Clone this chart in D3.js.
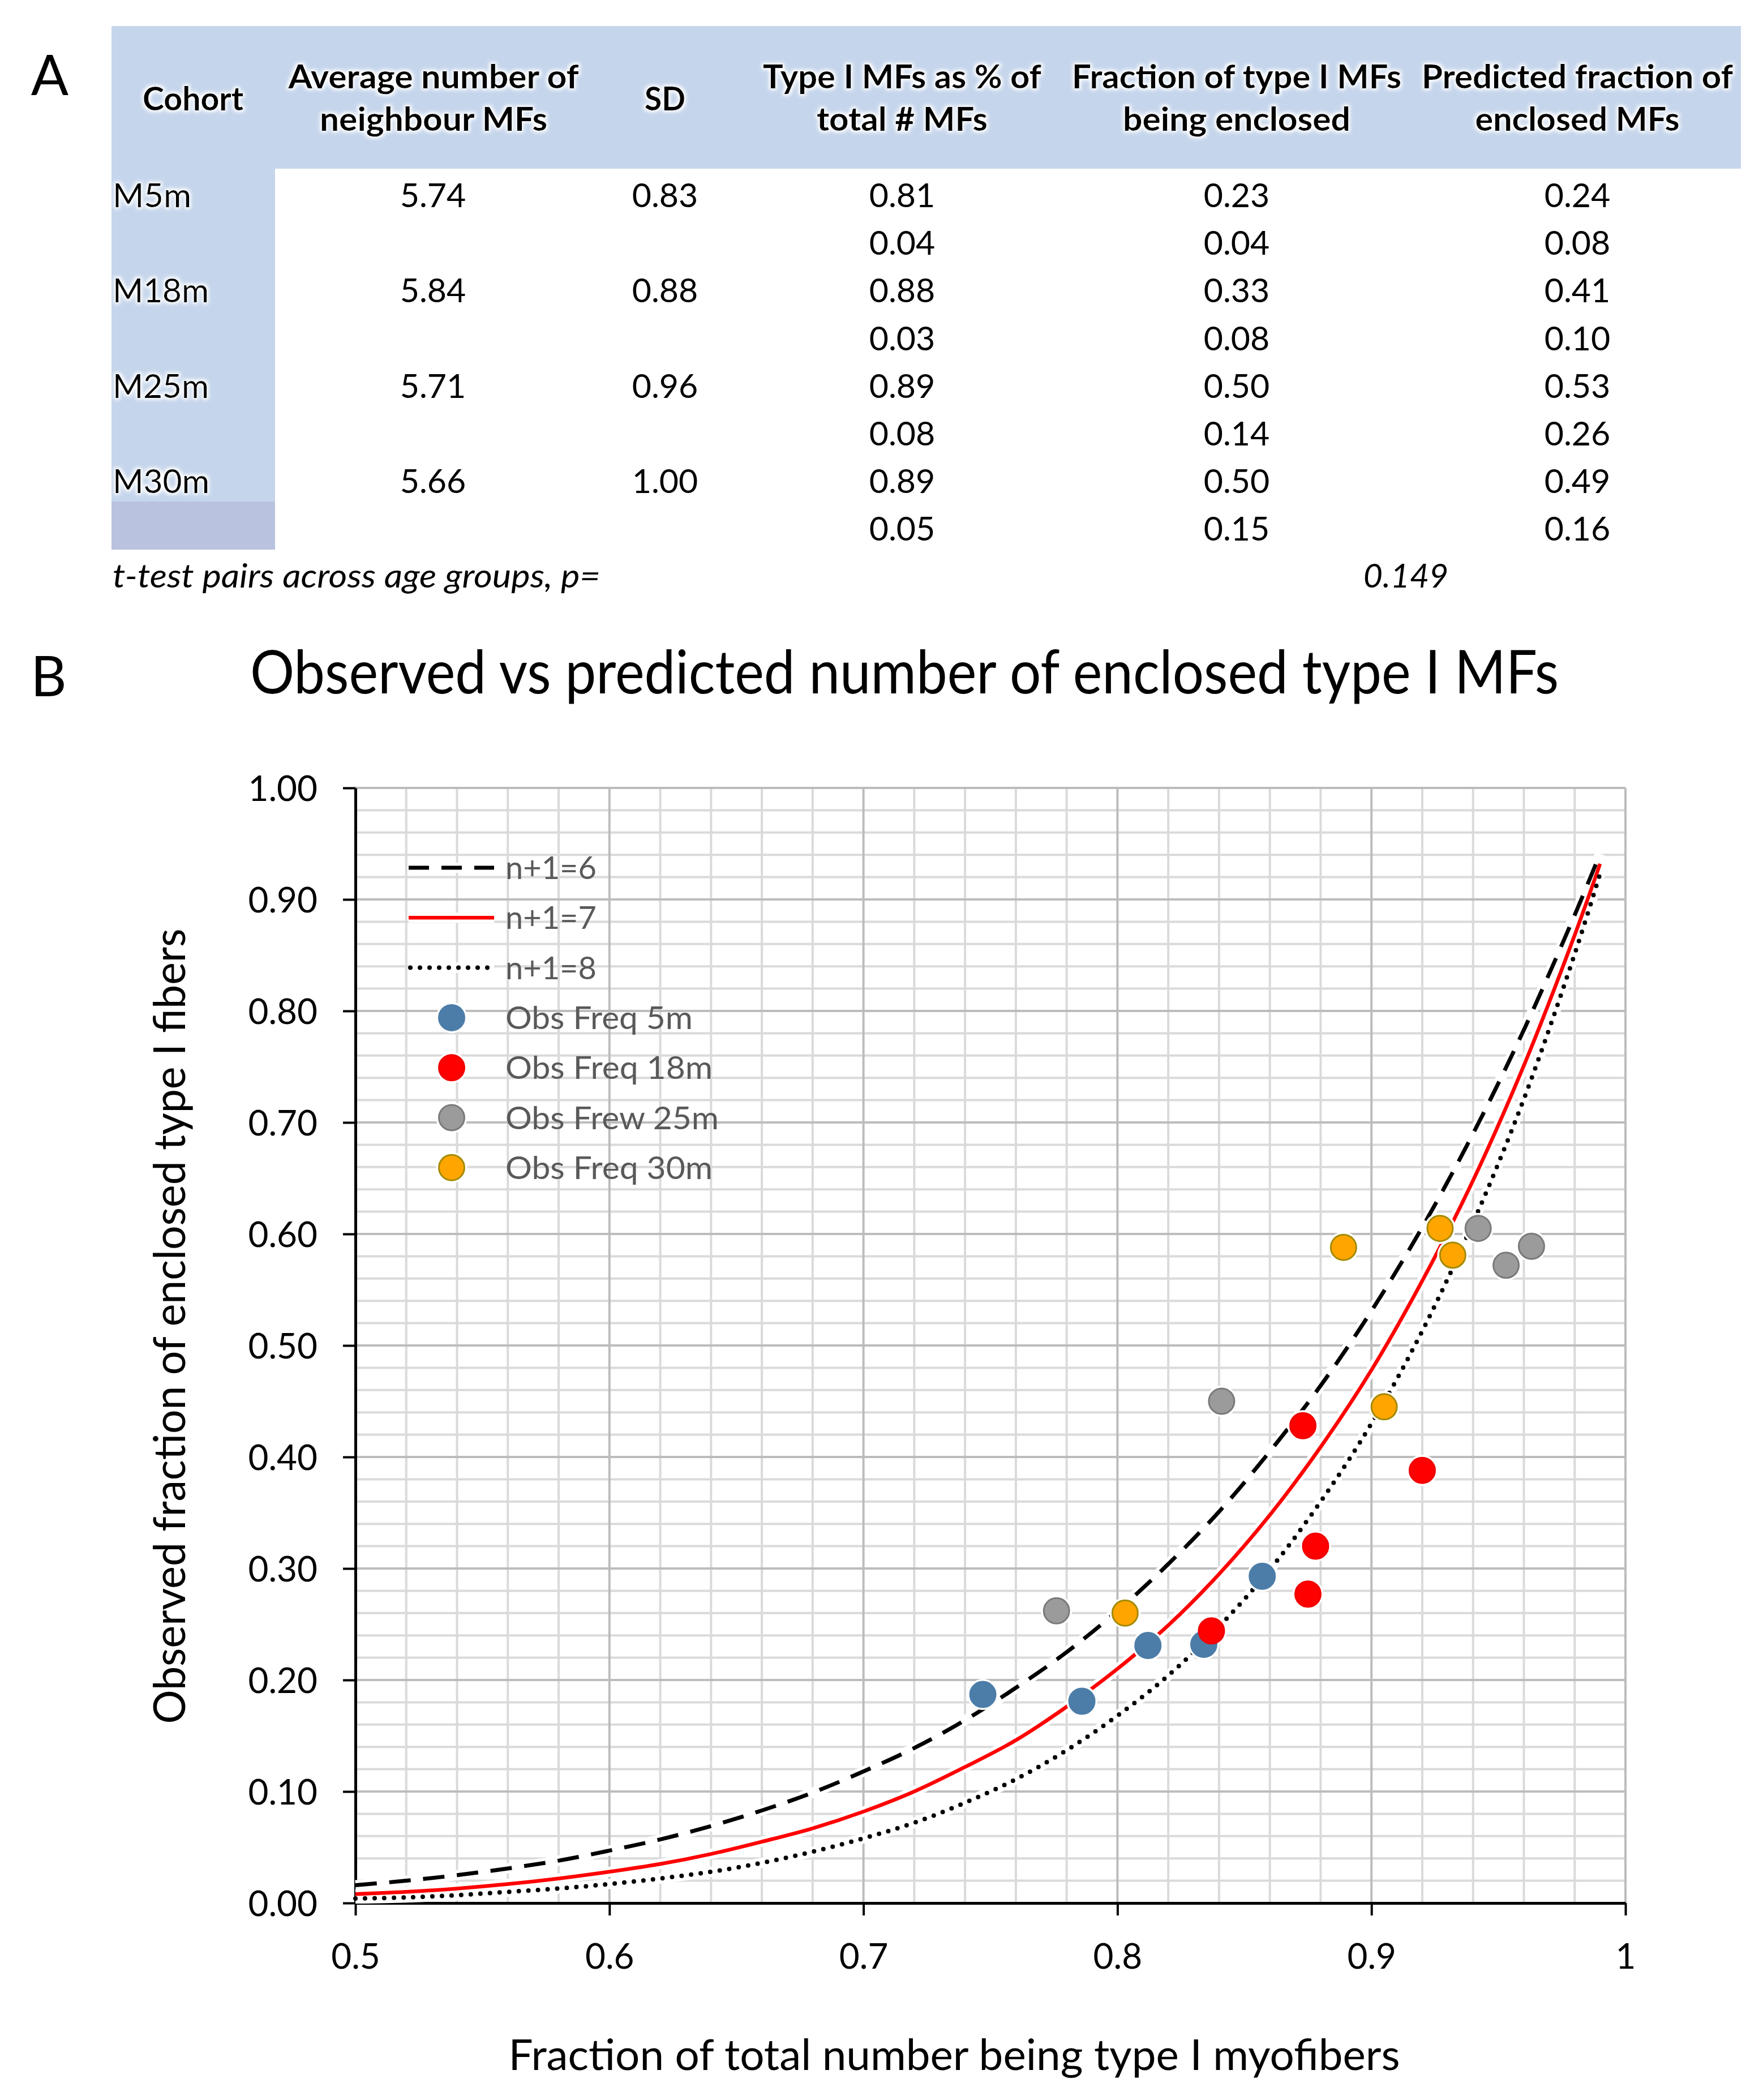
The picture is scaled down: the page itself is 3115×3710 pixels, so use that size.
<!DOCTYPE html>
<html>
<head>
<meta charset="utf-8">
<script src="https://cdn.jsdelivr.net/npm/d3@7"></script>
<style>
  html, body { margin: 0; padding: 0; background: #fff; }
  svg { display: block; font-family: Lato, "Open Sans", "Noto Sans", sans-serif; }
</style>
</head>
<body>
<svg id="chart" width="3115" height="3710"></svg>
<script>
// ---------------- DATA ----------------
// Table (panel A)
const cohorts = ["M5m", "M18m", "M25m", "M30m"];
const avgNeighbours = [5.74, 5.84, 5.71, 5.66];
const avgNeighboursSD = [0.83, 0.88, 0.96, 1.00];
const typeIMean = [0.81, 0.88, 0.89, 0.89];
const typeISD = [0.04, 0.03, 0.08, 0.05];
const fracEnclosedMean = [0.23, 0.33, 0.50, 0.50];
const fracEnclosedSD = [0.04, 0.08, 0.14, 0.15];
const predictedMean = [0.24, 0.41, 0.53, 0.49];
const predictedSD = [0.08, 0.10, 0.26, 0.16];
const tTestLabel = "t-test pairs across age groups, p=";
const tTestP = "0.149";

// Panel B – model curves
const curveX = [0.50, 0.52, 0.54, 0.56, 0.58, 0.60, 0.62, 0.64, 0.66, 0.68, 0.70, 0.72, 0.74,
                0.76, 0.78, 0.80, 0.82, 0.84, 0.86, 0.88, 0.90, 0.92, 0.94, 0.96, 0.98, 0.99];
const curveN6 = [0.016, 0.020, 0.025, 0.031, 0.038, 0.047, 0.057, 0.069, 0.083, 0.099, 0.118, 0.139, 0.164,
                 0.193, 0.225, 0.262, 0.304, 0.351, 0.405, 0.464, 0.531, 0.606, 0.690, 0.783, 0.886, 0.941];
const curveN7 = [0.008, 0.010, 0.013, 0.017, 0.022, 0.028, 0.035, 0.044, 0.055, 0.067, 0.082, 0.100, 0.122,
                 0.146, 0.176, 0.210, 0.249, 0.295, 0.348, 0.409, 0.478, 0.558, 0.648, 0.751, 0.868, 0.932];
const curveN8 = [0.004, 0.005, 0.007, 0.010, 0.013, 0.017, 0.022, 0.028, 0.036, 0.046, 0.058, 0.072, 0.090,
                 0.111, 0.137, 0.168, 0.204, 0.248, 0.299, 0.360, 0.430, 0.513, 0.610, 0.721, 0.851, 0.923];
const curveLabels = ["n+1=6", "n+1=7", "n+1=8"];

// Panel B – observed points
const obs5mX  = [0.747, 0.786, 0.812, 0.834, 0.857];
const obs5mY  = [0.187, 0.181, 0.231, 0.232, 0.293];
const obs18mX = [0.837, 0.873, 0.878, 0.875, 0.920];
const obs18mY = [0.244, 0.428, 0.320, 0.277, 0.388];
const obs25mX = [0.776, 0.841, 0.942, 0.953, 0.963];
const obs25mY = [0.262, 0.450, 0.605, 0.572, 0.589];
const obs30mX = [0.803, 0.889, 0.905, 0.927, 0.932];
const obs30mY = [0.260, 0.588, 0.445, 0.605, 0.581];
const seriesLabels = ["Obs Freq 5m", "Obs Freq 18m", "Obs Frew 25m", "Obs Freq 30m"];

// Axis ticks
const xTickValues = [0.5, 0.6, 0.7, 0.8, 0.9, 1.0];
const xTickLabels = ["0.5", "0.6", "0.7", "0.8", "0.9", "1"];
const yTickValues = [0.0, 0.1, 0.2, 0.3, 0.4, 0.5, 0.6, 0.7, 0.8, 0.9, 1.0];
const yTickLabels = ["0.00", "0.10", "0.20", "0.30", "0.40", "0.50", "0.60", "0.70", "0.80", "0.90", "1.00"];

const titleText = "Observed vs predicted number of enclosed type I MFs";
const xAxisTitle = "Fraction of total number being type I myofibers";
const yAxisTitle = "Observed fraction of enclosed type I fibers";

// ---------------- DRAWING ----------------
const svg = d3.select("#chart");
svg.append("rect").attr("width", 3115).attr("height", 3710).attr("fill", "#fff");

const defs = svg.append("defs");
const glow = defs.append("filter").attr("id", "glow")
  .attr("x", "-10%").attr("y", "-40%").attr("width", "120%").attr("height", "180%");
glow.append("feMorphology").attr("in", "SourceAlpha").attr("operator", "dilate").attr("radius", 3).attr("result", "d");
glow.append("feGaussianBlur").attr("in", "d").attr("stdDeviation", 3).attr("result", "b");
glow.append("feFlood").attr("flood-color", "#ffffff").attr("result", "f");
glow.append("feComposite").attr("in", "f").attr("in2", "b").attr("operator", "in").attr("result", "g");
const gm = glow.append("feMerge");
gm.append("feMergeNode").attr("in", "g");
gm.append("feMergeNode").attr("in", "SourceGraphic");

function txt(parent, s, o) {
  const t = parent.append("text").text(s)
    .attr("x", o.x).attr("y", o.y)
    .attr("font-size", o.size)
    .attr("text-anchor", o.anchor || "start")
    .attr("fill", o.fill || "#000");
  if (o.weight) t.attr("font-weight", o.weight);
  if (o.style) t.attr("font-style", o.style);
  if (o.filter) t.attr("filter", o.filter);
  if (o.width) t.attr("textLength", o.width).attr("lengthAdjust", "spacingAndGlyphs");
  return t;
}

// ===== Panel A: table =====
const tA = svg.append("g");
txt(tA, "A", { x: 88, y: 168, size: 98, anchor: "middle" });

tA.append("rect").attr("x", 197).attr("y", 46).attr("width", 3076 - 197).attr("height", 298 - 46).attr("fill", "#C5D5EB");
tA.append("rect").attr("x", 197).attr("y", 298).attr("width", 486 - 197).attr("height", 886 - 298).attr("fill", "#C5D5EB");
tA.append("rect").attr("x", 197).attr("y", 886).attr("width", 486 - 197).attr("height", 971 - 886).attr("fill", "#B9C3DF");

const headers = [
  { lines: ["Cohort"], cx: 341, widths: [178] },
  { lines: ["Average number of", "neighbour MFs"], cx: 766, widths: [513, 402] },
  { lines: ["SD"], cx: 1175, widths: [72] },
  { lines: ["Type I MFs as % of", "total # MFs"], cx: 1594, widths: [492, 302] },
  { lines: ["Fraction of type I MFs", "being enclosed"], cx: 2185, widths: [582, 402] },
  { lines: ["Predicted fraction of", "enclosed MFs"], cx: 2787, widths: [550, 361] }
];
headers.forEach(h => {
  const ys = h.lines.length === 1 ? [195] : [156, 231];
  h.lines.forEach((l, i) => {
    txt(tA, l, { x: h.cx, y: ys[i], size: 58, anchor: "middle", weight: "bold", filter: "url(#glow)", width: h.widths[i] });
  });
});

const rowStep = 84.2;
const colX = { avg: 765, sd: 1175, t1: 1594, fr: 2185, pr: 2787 };
const f2 = d3.format(".2f");
const bodySize = 59;
cohorts.forEach((c, i) => {
  const b1 = 366 + 2 * i * rowStep;
  const b2 = b1 + rowStep;
  txt(tA, c, { x: 199, y: b1, size: bodySize, filter: "url(#glow)", width: [139, 170, 170, 171][i] });
  txt(tA, f2(avgNeighbours[i]), { x: colX.avg, y: b1, size: bodySize, anchor: "middle" });
  txt(tA, f2(avgNeighboursSD[i]), { x: colX.sd, y: b1, size: bodySize, anchor: "middle" });
  txt(tA, f2(typeIMean[i]), { x: colX.t1, y: b1, size: bodySize, anchor: "middle" });
  txt(tA, f2(fracEnclosedMean[i]), { x: colX.fr, y: b1, size: bodySize, anchor: "middle" });
  txt(tA, f2(predictedMean[i]), { x: colX.pr, y: b1, size: bodySize, anchor: "middle" });
  txt(tA, f2(typeISD[i]), { x: colX.t1, y: b2, size: bodySize, anchor: "middle" });
  txt(tA, f2(fracEnclosedSD[i]), { x: colX.fr, y: b2, size: bodySize, anchor: "middle" });
  txt(tA, f2(predictedSD[i]), { x: colX.pr, y: b2, size: bodySize, anchor: "middle" });
});
txt(tA, tTestLabel, { x: 199, y: 1038, size: bodySize, style: "italic", width: 862 });
txt(tA, tTestP, { x: 2484, y: 1038, size: bodySize, anchor: "middle", style: "italic" });

// ===== Panel B: chart =====
const gB = svg.append("g");
txt(gB, "B", { x: 86, y: 1230, size: 98, anchor: "middle" });
txt(gB, titleText, { x: 1598, y: 1225, size: 106, anchor: "middle", width: 2312 });

const x = d3.scaleLinear().domain([0.5, 1.0]).range([628, 2872]);
const y = d3.scaleLinear().domain([0, 1]).range([3362, 1392]);

// gridlines
const isMajor = v => Math.abs(v * 10 - Math.round(v * 10)) < 1e-6;
const minorX = d3.range(26).map(i => 0.5 + i * 0.02).filter(v => !isMajor(v));
const minorY = d3.range(51).map(i => i * 0.02).filter(v => !isMajor(v));
const majorX = xTickValues.filter(v => v > 0.5);
const majorY = yTickValues.filter(v => v > 0);

const grid = gB.append("g");
grid.selectAll(".mx").data(minorX).join("line")
  .attr("x1", d => x(d)).attr("x2", d => x(d)).attr("y1", y(1)).attr("y2", y(0))
  .attr("stroke", "#DADADA").attr("stroke-width", 4);
grid.selectAll(".my").data(minorY).join("line")
  .attr("x1", x(0.5)).attr("x2", x(1)).attr("y1", d => y(d)).attr("y2", d => y(d))
  .attr("stroke", "#DADADA").attr("stroke-width", 4);
grid.selectAll(".Mx").data(majorX).join("line")
  .attr("x1", d => x(d)).attr("x2", d => x(d)).attr("y1", y(1)).attr("y2", y(0))
  .attr("stroke", "#BCBCBC").attr("stroke-width", 4);
grid.selectAll(".My").data(majorY).join("line")
  .attr("x1", x(0.5)).attr("x2", x(1)).attr("y1", d => y(d)).attr("y2", d => y(d))
  .attr("stroke", "#BCBCBC").attr("stroke-width", 4);

// axes
const xAxis = d3.axisBottom(x).tickValues(xTickValues)
  .tickFormat((d, i) => xTickLabels[i]).tickSize(22).tickPadding(50).tickSizeOuter(0);
const yAxis = d3.axisLeft(y).tickValues(yTickValues)
  .tickFormat((d, i) => yTickLabels[i]).tickSize(22).tickPadding(45).tickSizeOuter(0);

const gx = gB.append("g").attr("transform", `translate(0,${y(0)})`).call(xAxis);
const gy = gB.append("g").attr("transform", `translate(${x(0.5)},0)`).call(yAxis);
[gx, gy].forEach(g => {
  g.select(".domain").attr("stroke", "#000").attr("stroke-width", 5);
  g.selectAll(".tick line").attr("stroke", "#000").attr("stroke-width", 4);
  g.selectAll(".tick text").attr("font-size", 62).attr("fill", "#000")
    .attr("font-family", "Lato, 'Open Sans', sans-serif");
});
gy.selectAll(".tick text").attr("dy", "0.36em");

// curves
const curveSeries = [
  { vals: curveN6, stroke: "#000", width: 7, dash: "38 22", cap: "butt" },
  { vals: curveN7, stroke: "#FF0000", width: 6.5, dash: null, cap: "butt" },
  { vals: curveN8, stroke: "#000", width: 8, dash: "0 17", cap: "round" }
];
const lineGen = d3.line().x(d => x(d[0])).y(d => y(d[1])).curve(d3.curveCatmullRom);
const curvesG = gB.append("g");
curveSeries.forEach(s => {
  curvesG.append("path").datum(curveX.map((v, i) => [v, s.vals[i]]))
    .attr("d", lineGen).attr("fill", "none").attr("stroke", "#fff").attr("stroke-width", 18)
    .attr("stroke-linejoin", "round");
});
curveSeries.forEach(s => {
  const p = curvesG.append("path").datum(curveX.map((v, i) => [v, s.vals[i]]))
    .attr("d", lineGen).attr("fill", "none").attr("stroke", s.stroke)
    .attr("stroke-width", s.width).attr("stroke-linecap", s.cap).attr("stroke-linejoin", "round");
  if (s.dash) p.attr("stroke-dasharray", s.dash);
});

// observed points
const pointSeries = [
  { xs: obs5mX, ys: obs5mY, fill: "#4C7DA8", stroke: "#4C7DA8" },
  { xs: obs18mX, ys: obs18mY, fill: "#FF0000", stroke: "#F00000" },
  { xs: obs25mX, ys: obs25mY, fill: "#9B9B9B", stroke: "#7A7A7A" },
  { xs: obs30mX, ys: obs30mY, fill: "#FFA500", stroke: "#A38B00" }
];
const R = 22.5;
const ptsG = gB.append("g");
pointSeries.forEach(s => {
  ptsG.selectAll(null).data(s.xs.map((v, i) => [v, s.ys[i]])).join("circle")
    .attr("cx", d => x(d[0])).attr("cy", d => y(d[1])).attr("r", R + 5).attr("fill", "#fff");
});
pointSeries.forEach(s => {
  ptsG.selectAll(null).data(s.xs.map((v, i) => [v, s.ys[i]])).join("circle")
    .attr("cx", d => x(d[0])).attr("cy", d => y(d[1])).attr("r", R)
    .attr("fill", s.fill).attr("stroke", s.stroke).attr("stroke-width", 3);
});

// legend
const leg = gB.append("g");
const legY0 = 1533, legStep = 88.3;
const legTextX = 893;
const lineW = [161, 161, 161];
curveSeries.forEach((s, i) => {
  const cy = legY0 + i * legStep;
  leg.append("line").attr("x1", 722).attr("x2", 873).attr("y1", cy).attr("y2", cy)
    .attr("stroke", "#fff").attr("stroke-width", 18);
  const l = leg.append("line").attr("x1", s.cap === "round" ? 725 : 722).attr("x2", 873).attr("y1", cy).attr("y2", cy)
    .attr("stroke", s.stroke).attr("stroke-width", s.width).attr("stroke-linecap", s.cap);
  if (s.dash) l.attr("stroke-dasharray", s.dash === "38 22" ? "36 22" : s.dash);
  txt(leg, curveLabels[i], { x: legTextX, y: cy + 20, size: 56, fill: "#595959", width: lineW[i] });
});
const serW = [331, 366, 377, 366];
pointSeries.forEach((s, i) => {
  const cy = legY0 + (i + 3) * legStep;
  leg.append("circle").attr("cx", 798).attr("cy", cy).attr("r", R + 5).attr("fill", "#fff");
  leg.append("circle").attr("cx", 798).attr("cy", cy).attr("r", R)
    .attr("fill", s.fill).attr("stroke", s.stroke).attr("stroke-width", 3);
  txt(leg, seriesLabels[i], { x: legTextX, y: cy + 20, size: 56, fill: "#595959", width: serW[i] });
});

// axis titles
txt(gB, xAxisTitle, { x: 1686, y: 3657, size: 76, anchor: "middle", width: 1575 });
gB.append("text").text(yAxisTitle)
  .attr("transform", "translate(327,2343) rotate(-90)")
  .attr("text-anchor", "middle").attr("font-size", 78).attr("fill", "#000")
  .attr("textLength", 1405).attr("lengthAdjust", "spacingAndGlyphs");
</script>
</body>
</html>
